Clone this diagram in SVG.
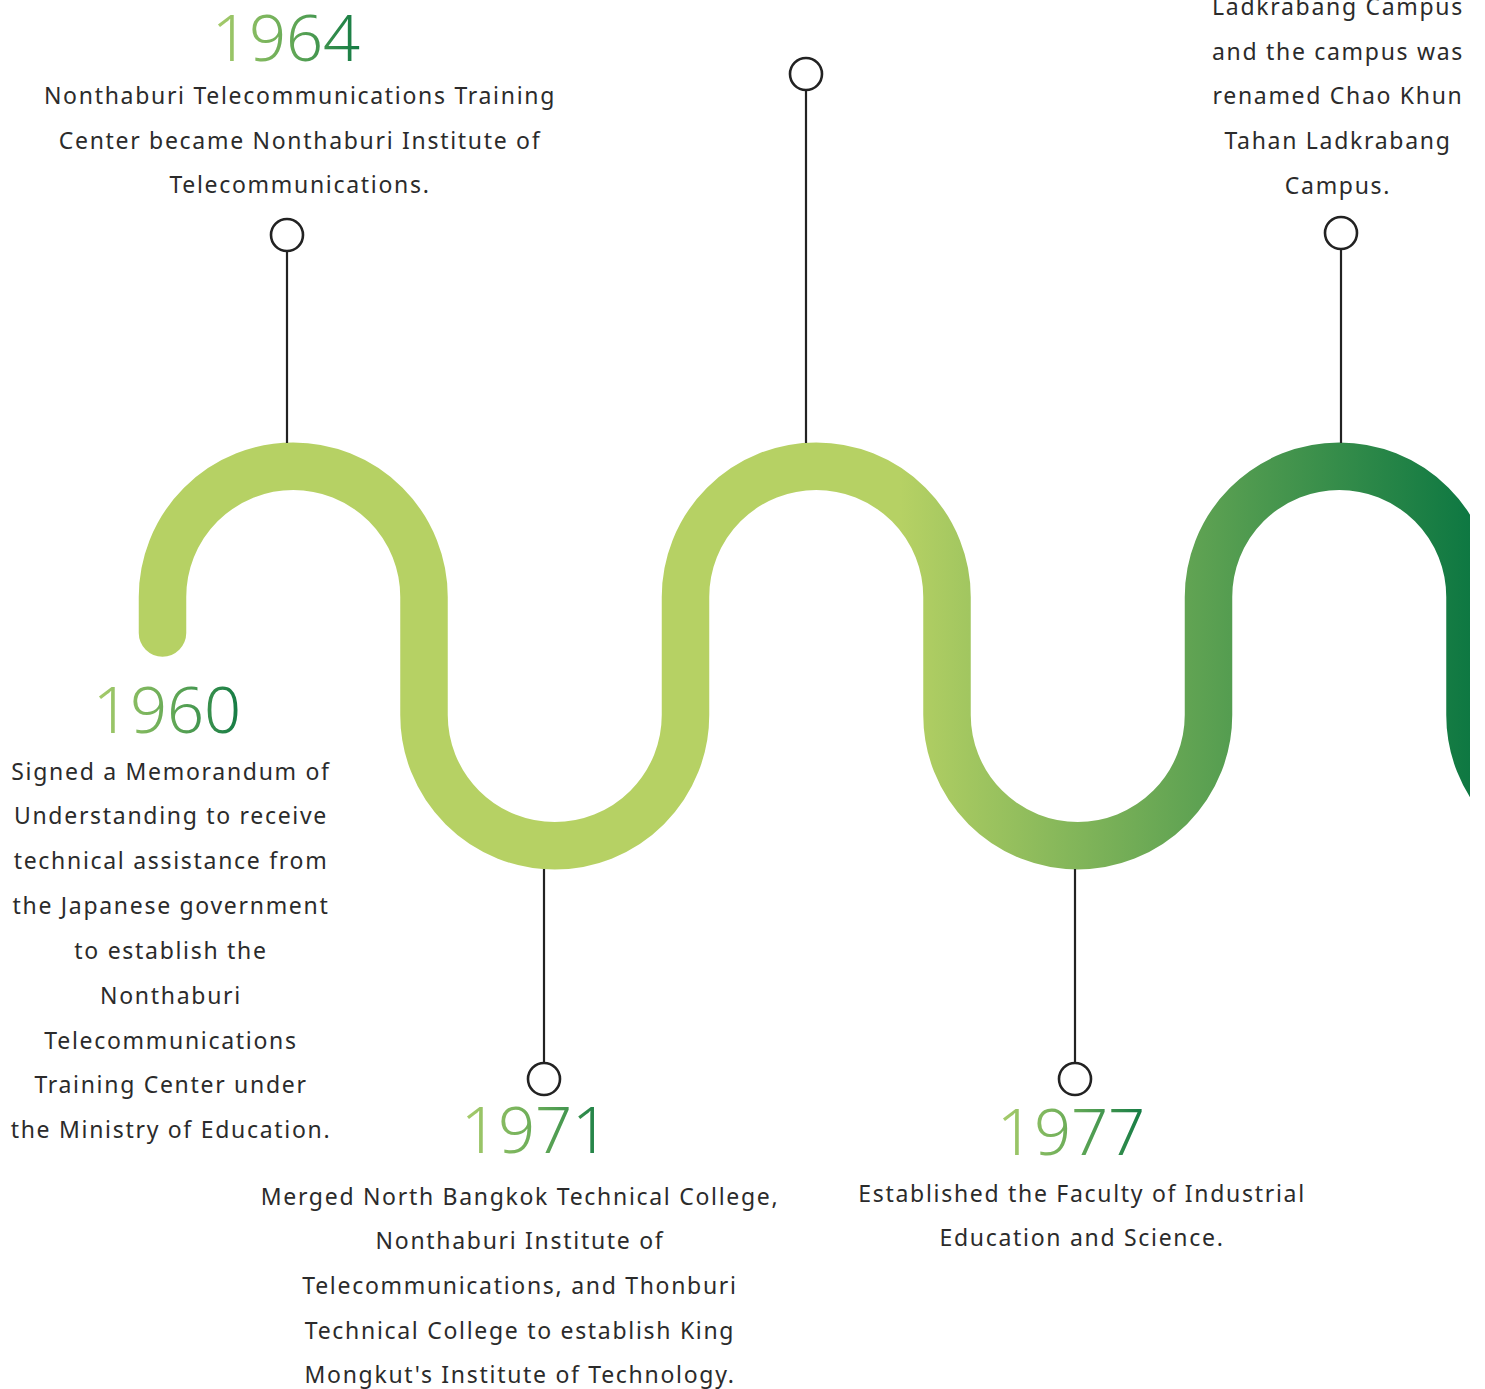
<svg xmlns="http://www.w3.org/2000/svg" width="1485" height="1389" viewBox="0 0 1485 1389">
<defs>
<linearGradient id="waveGrad" gradientUnits="userSpaceOnUse" x1="900" y1="0" x2="1470" y2="0">
<stop offset="0" stop-color="#b6d164"/>
<stop offset="0.5" stop-color="#62a453"/>
<stop offset="1" stop-color="#0e7842"/>
</linearGradient>
<linearGradient id="yearGrad" x1="0" y1="0" x2="1" y2="0">
<stop offset="0" stop-color="#aacd6c"/>
<stop offset="0.5" stop-color="#6aac58"/>
<stop offset="1" stop-color="#127a44"/>
</linearGradient>
<clipPath id="clipR"><rect x="0" y="0" width="1470" height="1389"/></clipPath>
<style>
.year{font-family:"Noto Sans","Liberation Sans",sans-serif;font-weight:300;font-size:65px;fill:url(#yearGrad);text-anchor:middle}
.body{font-family:"Noto Sans","Liberation Sans",sans-serif;font-size:23px;fill:#2b2b2b;text-anchor:middle;letter-spacing:1.7px}
.conn{stroke:#222;stroke-width:2.2;fill:none}
.dot{stroke:#222;stroke-width:2.6;fill:#fff}
</style>
</defs>
<rect width="1485" height="1389" fill="#fff"/>
<g id="wave" clip-path="url(#clipR)">
<path d="M162.5,633 L162.5,597 A130.75,130.75 0 0 1 424,597 L424,715 A130.75,130.75 0 0 0 685.5,715 L685.5,597 A130.75,130.75 0 0 1 947,597 L947,715 A130.75,130.75 0 0 0 1208.5,715 L1208.5,597 A130.75,130.75 0 0 1 1470,597 L1470,715 A130.75,130.75 0 0 0 1731.5,715" fill="none" stroke="url(#waveGrad)" stroke-width="47.5" stroke-linecap="round"/>
</g>
<g id="connectors">
<line class="conn" x1="287" y1="251" x2="287" y2="443"/>
<line class="conn" x1="806" y1="90" x2="806" y2="443"/>
<line class="conn" x1="1341" y1="249" x2="1341" y2="443"/>
<line class="conn" x1="544" y1="869" x2="544" y2="1063"/>
<line class="conn" x1="1075" y1="869" x2="1075" y2="1063"/>
</g>
<g id="node-1960">
<text class="year" x="167" y="733">1960</text>
<text class="body" x="171" y="780">Signed a Memorandum of</text>
<text class="body" x="171" y="824">Understanding to receive</text>
<text class="body" x="171" y="869">technical assistance from</text>
<text class="body" x="171" y="914">the Japanese government</text>
<text class="body" x="171" y="959">to establish the</text>
<text class="body" x="171" y="1004">Nonthaburi</text>
<text class="body" x="171" y="1049">Telecommunications</text>
<text class="body" x="171" y="1093">Training Center under</text>
<text class="body" x="171" y="1138">the Ministry of Education.</text>
</g>
<g id="node-1964">
<text class="year" x="286" y="61">1964</text>
<text class="body" x="300" y="104">Nonthaburi Telecommunications Training</text>
<text class="body" x="300" y="149">Center became Nonthaburi Institute of</text>
<text class="body" x="300" y="193">Telecommunications.</text>
<circle class="dot" cx="287" cy="235" r="16"/>
</g>
<g id="node-mid">
<circle class="dot" cx="806" cy="74" r="16"/>
</g>
<g id="node-ladkrabang">
<text class="body" x="1338" y="15">Ladkrabang Campus</text>
<text class="body" x="1338" y="60">and the campus was</text>
<text class="body" x="1338" y="104">renamed Chao Khun</text>
<text class="body" x="1338" y="149">Tahan Ladkrabang</text>
<text class="body" x="1338" y="194">Campus.</text>
<circle class="dot" cx="1341" cy="233" r="16"/>
</g>
<g id="node-1971">
<circle class="dot" cx="544" cy="1079" r="16"/>
<text class="year" x="535" y="1153">1971</text>
<text class="body" x="520" y="1205">Merged North Bangkok Technical College,</text>
<text class="body" x="520" y="1249">Nonthaburi Institute of</text>
<text class="body" x="520" y="1294">Telecommunications, and Thonburi</text>
<text class="body" x="520" y="1339">Technical College to establish King</text>
<text class="body" x="520" y="1383">Mongkut's Institute of Technology.</text>
</g>
<g id="node-1977">
<circle class="dot" cx="1075" cy="1079" r="16"/>
<text class="year" x="1071" y="1155">1977</text>
<text class="body" x="1082" y="1202">Established the Faculty of Industrial</text>
<text class="body" x="1082" y="1246">Education and Science.</text>
</g>
</svg>
